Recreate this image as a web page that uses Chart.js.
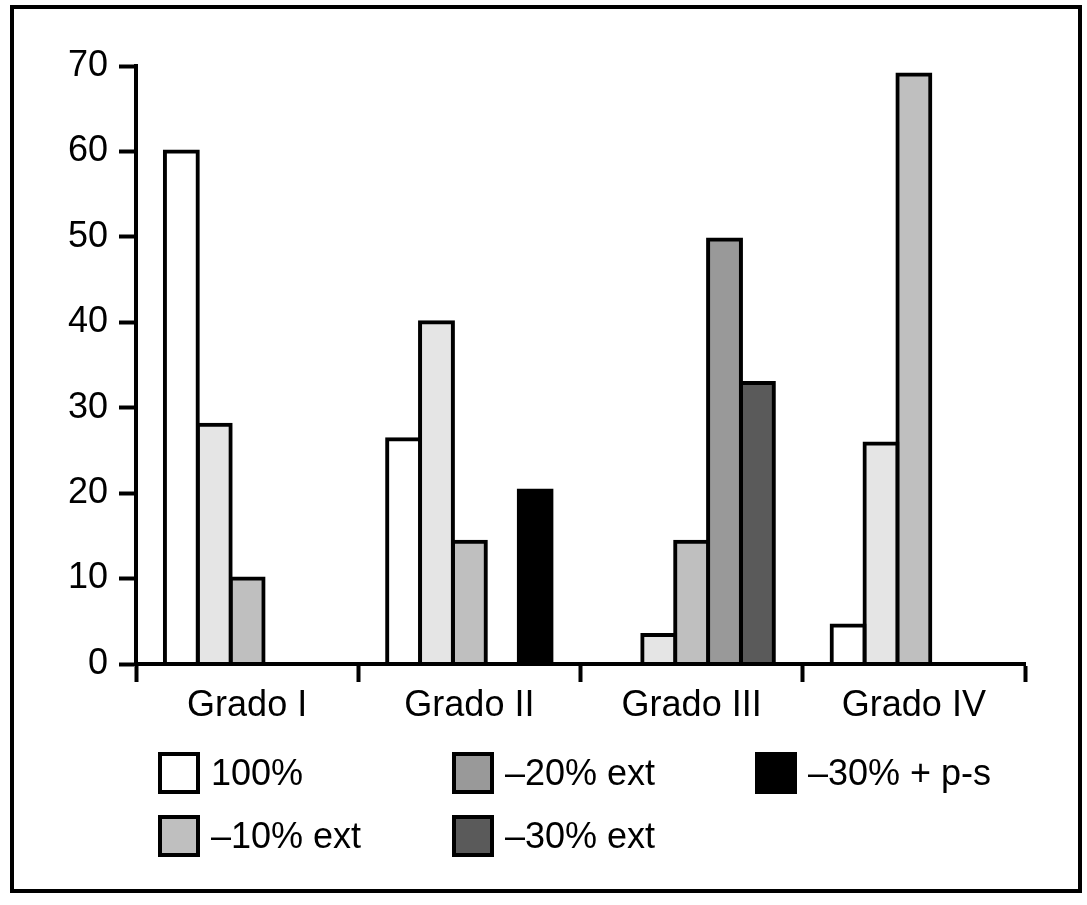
<!DOCTYPE html>
<html>
<head>
<meta charset="utf-8">
<script src="https://cdn.jsdelivr.net/npm/chart.js@4"></script>
<style>
    body { margin: 0; background: #fff; font-family: "Liberation Sans", Arial, sans-serif; }
    #marco { position: absolute; left: 10px; top: 5px; width: 1072px; height: 888px; border: 4px solid #000; box-sizing: border-box; }
    #myChart { position: absolute; left: 0; top: 0; }
    #legenda { position: absolute; left: 158px; top: 752px; display: grid; grid-auto-flow: column;
        grid-template-rows: 63px 63px; grid-template-columns: 294px 303px 300px; }
    .item { display: flex; align-items: flex-start; font-size: 36px; color: #000; }
    .item span.caixa { width: 42px; height: 42px; border: 4px solid #000; box-sizing: border-box; margin-right: 11px; flex: none; }
    .item span.txt { line-height: 42px; }
</style>
</head>
<body>
<div id="marco"></div>
<canvas id="myChart" width="1087" height="905"></canvas>
<div id="legenda"></div>
<script>
// Categorias e valores de cada série //
const grados = ["Grado I", "Grado II", "Grado III", "Grado IV"];
const serie100 = [60, 26.3, null, 4.5];
const serieClara = [28, 40, 3.4, 25.8];
const serieMenos10 = [10, 14.3, 14.3, 69];
const serieMenos20 = [null, null, 49.7, null];
const serieMenos30 = [null, null, 32.9, null];
const serieMenos30ps = [null, 20.3, null, null];
const ticksY = [0, 10, 20, 30, 40, 50, 60, 70];

const fonte = { family: "'Liberation Sans', Arial, sans-serif", size: 36 };

function serie(label, data, cor, stack, naLegenda) {
    return {
        label: label,
        data: data,
        backgroundColor: cor,
        borderColor: "#000",
        borderWidth: 4,
        inflateAmount: 2,
        stack: stack,
        naLegenda: naLegenda,
    };
}

const data = {
    labels: grados,
    datasets: [
        serie("100%", serie100, "#ffffff", "s1", true),
        serie("", serieClara, "#e5e5e5", "s2", false),
        serie("–10% ext", serieMenos10, "#bfbfbf", "s3", true),
        serie("–20% ext", serieMenos20, "#999999", "s4", true),
        serie("–30% ext", serieMenos30, "#5a5a5a", "s5", true),
        serie("–30% + p-s", serieMenos30ps, "#000000", "s5", true),
    ],
};

const config = {
    type: "bar",
    data: data,
    options: {
        responsive: false,
        animation: false,
        devicePixelRatio: 1,
        categoryPercentage: 0.74,
        barPercentage: 1,
        layout: { padding: { left: 0, top: 66, right: 62, bottom: 181 } },
        plugins: { legend: { display: false }, tooltip: { enabled: false } },
        scales: {
            x: {
                stacked: true,
                z: 1,
                afterFit: function (scale) { scale.height = 60; },
                border: { display: true, color: "#000", width: 4, z: 1 },
                grid: { drawOnChartArea: false, offset: true, tickLength: 18, tickColor: "#000", tickWidth: 4 },
                ticks: { color: "#000", font: fonte, padding: 2, maxRotation: 0 },
            },
            y: {
                stacked: true,
                z: 1,
                min: 0,
                max: 70,
                afterFit: function (scale) { scale.width = 136; },
                afterBuildTicks: function (scale) { scale.ticks = ticksY.map(function (v) { return { value: v }; }); },
                border: { display: true, color: "#000", width: 4, z: 1 },
                grid: { drawOnChartArea: false, tickLength: 17, tickColor: "#000", tickWidth: 4 },
                ticks: { color: "#000", font: fonte, padding: 11 },
            },
        },
    },
};

const myChart = new Chart(document.getElementById("myChart"), config);

// Legenda feita à mão, ordem por colunas //
const legenda = document.getElementById("legenda");
data.datasets.forEach(function (ds) {
    if (!ds.naLegenda) return;
    const item = document.createElement("div");
    item.className = "item";
    const caixa = document.createElement("span");
    caixa.className = "caixa";
    caixa.style.background = ds.backgroundColor;
    const txt = document.createElement("span");
    txt.className = "txt";
    txt.innerText = ds.label;
    item.append(caixa, txt);
    legenda.append(item);
});
</script>
</body>
</html>
